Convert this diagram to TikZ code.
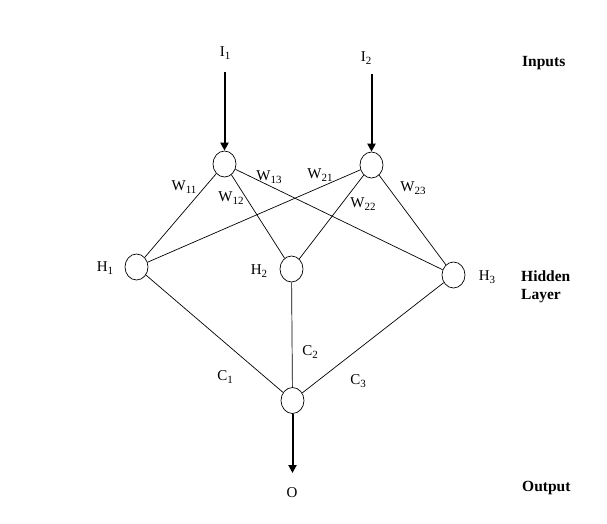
\documentclass[tikz,border=0pt]{standalone}
\usepackage{fontspec}
\setmainfont{Liberation Serif}
\usetikzlibrary{arrows.meta,shapes.geometric}
\newcommand{\lbl}[2]{#1\raisebox{-0.35ex}{\fontsize{11}{11}\selectfont #2}}
\begin{document}
\begin{tikzpicture}[x=1pt,y=-1pt,
  neuron/.style={draw,ellipse,minimum width=23pt,minimum height=26pt,inner sep=0pt,line width=0.7pt},
  link/.style={line width=0.7pt},
  feed/.style={line width=2pt,-{Triangle[length=8pt,width=8pt]}},
  txt/.style={font=\fontsize{15}{15}\selectfont,inner sep=0pt},
  side/.style={font=\fontsize{15.5}{18}\selectfont\bfseries,inner sep=0pt,align=left,anchor=west}]
\useasboundingbox (0,0) rectangle (607,523);
\node[neuron] (i1) at (224.5,164) {};
\node[neuron] (i2) at (371.5,165) {};
\node[neuron] (h1) at (136.5,267) {};
\node[neuron] (h2) at (291.5,269) {};
\node[neuron] (h3) at (453.5,275) {};
\node[neuron] (o) at (292.5,400.5) {};
\node[txt] (ti1) at (225,53) {\lbl{I}{1}};
\node[txt] (ti2) at (366,58) {\lbl{I}{2}};
\node[txt] (to) at (292,493) {O};
\coordinate (a1) at (224.5,72);
\coordinate (a2) at (371.5,74);
\coordinate (ao) at (292.5,473);
\draw[feed] (a1) -- (i1);
\draw[feed] (a2) -- (i2);
\draw[feed] (o) -- (ao);
\draw[link] (i1) -- (h1);
\draw[link] (i1) -- (h2);
\draw[link] (i1) -- (h3);
\draw[link] (i2) -- (h1);
\draw[link] (i2) -- (h2);
\draw[link] (i2) -- (h3);
\draw[link] (h1) -- (o);
\draw[link] (h2) -- (o);
\draw[link] (h3) -- (o);
\node[txt] (w11) at (184,187) {\lbl{W}{11}};
\node[txt] (w12) at (231,198) {\lbl{W}{12}};
\node[txt] (w13) at (269,177) {\lbl{W}{13}};
\node[txt] (w21) at (320,175) {\lbl{W}{21}};
\node[txt] (w22) at (363,204) {\lbl{W}{22}};
\node[txt] (w23) at (413,188) {\lbl{W}{23}};
\node[txt] (th1) at (105,268) {\lbl{H}{1}};
\node[txt] (th2) at (259,271) {\lbl{H}{2}};
\node[txt] (th3) at (487,277) {\lbl{H}{3}};
\node[txt] (c1) at (225,377) {\lbl{C}{1}};
\node[txt] (c2) at (310,352) {\lbl{C}{2}};
\node[txt] (c3) at (358,381) {\lbl{C}{3}};
\node[side] (inp) at (522,63) {Inputs};
\node[side] (hid) at (521,287) {Hidden\\Layer};
\node[side] (out) at (522,488) {Output};
\end{tikzpicture}
\end{document}
